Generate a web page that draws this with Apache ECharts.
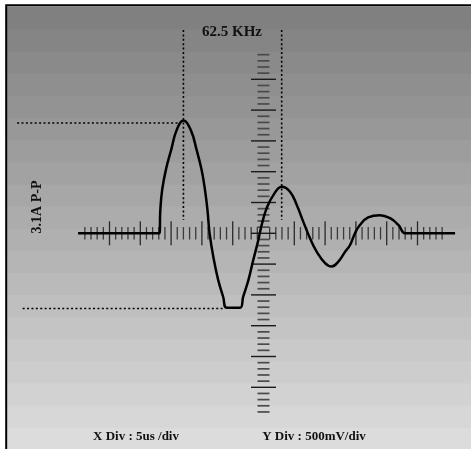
<!DOCTYPE html>
<html>
<head>
<meta charset="utf-8">
<script src="https://cdn.jsdelivr.net/npm/echarts@6/dist/echarts.min.js"></script>
<style>
html,body{margin:0;padding:0;background:#fff;}
#chart{width:471px;height:449px;}
</style>
</head>
<body>
<div id="chart"></div>
<script>
// ---- data (units: divisions) ----
const traceX = [-6.02,-3.55,-3.38,-3.35,-3.29,-3.17,-3.00,-2.82,-2.60,-2.36,-2.17,-2.01,-1.90,-1.82,-1.75,-1.61,-1.47,-1.31,-1.19,-0.76,-0.66,-0.49,-0.34,-0.19,-0.12,-0.06,0.10,0.32,0.59,0.86,1.08,1.29,1.51,1.73,2.00,2.21,2.43,2.65,2.81,2.97,3.13,3.40,3.78,4.11,4.38,4.59,4.72,6.22];
const traceY = [0,0,0,0.76,1.41,2.06,2.70,3.35,3.66,3.35,2.70,2.06,1.41,0.76,0,-0.87,-1.52,-2.06,-2.42,-2.42,-2.06,-1.52,-0.90,-0.31,0,0.27,0.81,1.24,1.51,1.35,0.92,0.38,-0.16,-0.60,-0.97,-1.08,-0.92,-0.60,-0.38,0,0.27,0.52,0.59,0.49,0.27,0,0,0];
const peakGuide = [[-8.0,3.58],[-2.75,3.58]];
const troughGuide = [[-7.82,-2.44],[-1.30,-2.44]];
const periodGuideA = [[-2.60,6.6],[-2.60,0.43]];
const periodGuideB = [[0.59,6.6],[0.59,0.43]];
const majorTicks = [-5,-4,-3,-2,-1,1,2,3,4,5];
const minorTicks = [];
for (let k = -29; k <= 29; k++) { if (k % 5 !== 0) minorTicks.push(k / 5); }
const freqLabel = '62.5 KHz';
const ppLabel = '3.1A P-P';
const xDivLabel = 'X Div : 5us /div';
const yDivLabel = 'Y Div : 500mV/div';

// ---- build ----
const tickData = [];
majorTicks.forEach(v => tickData.push([v, 0, 1]));
minorTicks.forEach(v => tickData.push([v, 0, 0]));
majorTicks.concat([0]).forEach(v => tickData.push([v, 1, 1]));
minorTicks.forEach(v => tickData.push([v, 1, 0]));

const bandColors = [];
for (let k = 19; k >= 0; k--) {
  const c = Math.round(128 + k * 92 / 19);
  bandColors.push('rgb(' + c + ',' + c + ',' + c + ')');
}
const bandData = bandColors.map((c, i) => [i]);

const chart = echarts.init(document.getElementById('chart'));
const font = "'Liberation Serif','Times New Roman',serif";
const dotted = {color: '#000', width: 1.6, type: [2, 2.4]};
chart.setOption({
  animation: false,
  backgroundColor: '#fff',
  grid: [
    {left: 1.7, top: 17.7, width: 462, height: 431.2},
    {left: 7, top: 6.4, width: 470, height: 444}
  ],
  xAxis: [
    {gridIndex: 0, type: 'value', min: -8.5, max: 6.5, show: false},
    {gridIndex: 1, type: 'value', min: 0, max: 1, show: false}
  ],
  yAxis: [
    {gridIndex: 0, type: 'value', min: -7, max: 7, show: false},
    {gridIndex: 1, type: 'value', min: 0, max: 20, show: false}
  ],
  series: [
    {
      type: 'custom', xAxisIndex: 1, yAxisIndex: 1, data: bandData, silent: true, z: 0,
      renderItem: function (params, api) {
        const k = api.value(0);
        const a = api.coord([0, k + 1]);
        const b = api.coord([1, k]);
        return {type: 'rect', shape: {x: a[0], y: a[1], width: b[0] - a[0], height: b[1] - a[1] + 1},
          style: {fill: bandColors[k]}};
      }
    },
    {
      type: 'custom', xAxisIndex: 0, yAxisIndex: 0, data: tickData, silent: true, z: 2,
      renderItem: function (params, api) {
        const v = api.value(0), dir = api.value(1), major = api.value(2);
        if (dir === 0) {
          const p = api.coord([v, 0]);
          const h = major ? 12 : 6.2;
          return {type: 'line', shape: {x1: p[0], y1: p[1] - h, x2: p[0], y2: p[1] + h},
            style: {stroke: major ? '#2a2a2a' : '#3a3a3a', lineWidth: 1.3}};
        } else {
          const p = api.coord([0, v]);
          const h = major ? 12.5 : 6;
          return {type: 'line', shape: {x1: p[0] - h, y1: p[1], x2: p[0] + h, y2: p[1]},
            style: {stroke: major ? '#1a1a1a' : '#4a4a4a', lineWidth: major ? 1.4 : 1.7}};
        }
      }
    },
    {type: 'line', data: peakGuide, symbol: 'none', silent: true, z: 3, lineStyle: dotted},
    {type: 'line', data: troughGuide, symbol: 'none', silent: true, z: 3, lineStyle: dotted},
    {type: 'line', data: periodGuideA, symbol: 'none', silent: true, z: 3, lineStyle: dotted},
    {type: 'line', data: periodGuideB, symbol: 'none', silent: true, z: 3, lineStyle: dotted},
    {type: 'line', data: traceX.map((x, i) => [x, traceY[i]]), symbol: 'none',
     smooth: 0.45, clip: false, z: 5, silent: true,
     lineStyle: {color: '#000', width: 2.5}}
  ],
  graphic: [
    {type: 'rect', shape: {x: 6.2, y: 5.3, width: 490, height: 470},
     style: {fill: 'none', stroke: '#000', lineWidth: 2}, z: 100},
    {type: 'text', x: 232, y: 32, z: 100,
     style: {text: freqLabel, font: 'bold 15px ' + font, fill: '#111', align: 'center', verticalAlign: 'middle'}},
    {type: 'text', x: 37, y: 207, rotation: Math.PI / 2, z: 100,
     style: {text: ppLabel, font: 'bold 14px ' + font, fill: '#111', align: 'center', verticalAlign: 'middle'}},
    {type: 'text', x: 136, y: 437, z: 100,
     style: {text: xDivLabel, font: 'bold 13px ' + font, fill: '#111', align: 'center', verticalAlign: 'middle'}},
    {type: 'text', x: 314, y: 437, z: 100,
     style: {text: yDivLabel, font: 'bold 13px ' + font, fill: '#111', align: 'center', verticalAlign: 'middle'}}
  ]
});
</script>
</body>
</html>
